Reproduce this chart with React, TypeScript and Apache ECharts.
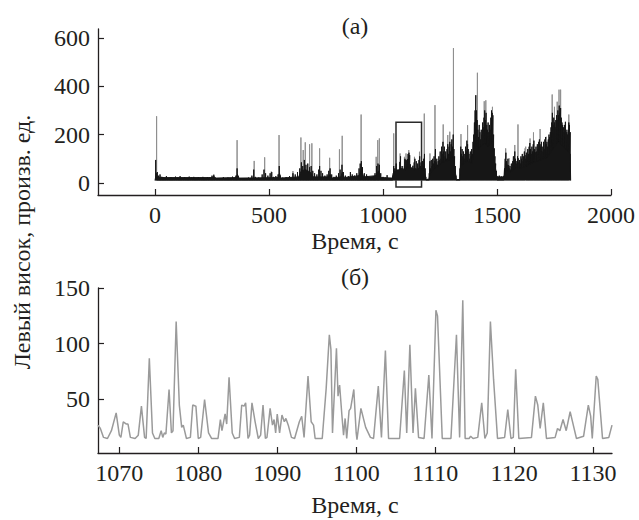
import React, { useEffect, useRef } from "react";
import * as echarts from "echarts";

// ---- tick values ----
const overviewTicksX = [0, 500, 1000, 1500, 2000];
const overviewTicksY = [0, 200, 400, 600];
const zoomTicksX = [1070, 1080, 1090, 1100, 1110, 1120, 1130];
const zoomTicksY = [50, 100, 150];

// ---- panel (a): solid black floor of the signal, [time s, value] ----
const floorLevel: [number, number][] = [
  [0, 10], [3, 25], [40, 22], [250, 22], [258, 28], [265, 20], [355, 22], [362, 35], [368, 20],
  [540, 22], [546, 40], [552, 20], [630, 25], [642, 50], [660, 55], [680, 45], [695, 25], [760, 25],
  [768, 35], [776, 20], [815, 25], [822, 45], [830, 22], [895, 30], [905, 55], [915, 25], [970, 30],
  [980, 50], [990, 22], [1043, 20], [1047, 45], [1060, 50], [1080, 60], [1100, 55], [1120, 65],
  [1140, 55], [1160, 60], [1183, 50], [1188, 15], [1202, 15], [1206, 40], [1230, 60], [1260, 85],
  [1290, 95], [1308, 105], [1318, 40], [1322, 14], [1337, 14], [1340, 70], [1370, 90], [1390, 80],
  [1405, 160], [1420, 140], [1445, 165], [1460, 150], [1480, 170], [1490, 80], [1499, 25],
  [1531, 25], [1536, 50], [1560, 45], [1580, 60], [1600, 60], [1630, 70], [1660, 85], [1690, 95],
  [1720, 105], [1745, 140], [1770, 170], [1790, 150], [1810, 130], [1821, 120], [1823, 10],
];

// ---- panel (a): dense black peaks, [time s, value] ----
const densePeaks: [number, number][] = [
  [3, 95], [6, 40], [10, 45], [15, 30], [22, 35], [30, 25], [40, 22], [50, 28], [60, 20],
  [70, 24], [80, 20], [90, 26], [100, 22], [110, 28], [120, 20], [130, 24], [140, 20], [150, 26],
  [160, 22], [170, 25], [180, 20], [190, 24], [200, 21], [210, 25], [220, 20], [230, 24], [240, 22],
  [250, 30], [258, 34], [265, 22], [280, 20], [300, 24], [320, 22], [340, 26], [355, 30], [360, 60],
  [365, 28], [380, 20], [395, 18], [410, 22], [425, 30], [433, 55], [440, 25], [455, 22], [470, 35],
  [478, 55], [485, 40], [495, 30], [505, 40], [512, 45], [520, 25], [530, 28], [540, 35], [545, 70],
  [550, 30], [560, 22], [575, 24], [590, 28], [605, 40], [615, 35], [625, 45], [635, 60], [642, 85],
  [648, 70], [655, 95], [662, 75], [670, 80], [678, 65], [685, 70], [692, 50], [700, 40], [710, 35],
  [718, 55], [722, 70], [728, 50], [735, 40], [745, 30], [755, 35], [762, 50], [768, 60], [775, 35],
  [785, 25], [795, 30], [805, 40], [812, 55], [820, 75], [826, 45], [835, 30], [848, 28], [857, 45],
  [865, 35], [875, 30], [885, 40], [895, 60], [900, 80], [905, 90], [910, 65], [918, 40], [928, 35],
  [940, 25], [955, 25], [965, 40], [972, 70], [978, 80], [984, 75], [990, 40], [1000, 25], [1010, 22],
  [1018, 32], [1025, 20], [1035, 20], [1043, 30],
  [1045, 40], [1047, 70], [1050, 45], [1052, 60], [1055, 35], [1058, 80], [1061, 40], [1063, 55],
  [1066, 30], [1069, 45], [1072, 44], [1074, 87], [1076, 59], [1077, 110], [1080, 50], [1082, 30],
  [1084, 70], [1086, 47], [1088, 45], [1091, 37], [1094, 71], [1096, 100], [1098, 96], [1100, 59],
  [1102, 42], [1104, 94], [1106, 76], [1107, 99], [1109, 72], [1110, 120], [1112, 108], [1114, 125],
  [1116, 47], [1117, 115], [1119, 41], [1120, 77], [1123, 53], [1125, 32], [1127, 39], [1129, 45],
  [1131, 71], [1134, 50], [1137, 85], [1140, 100], [1143, 60], [1146, 90], [1149, 55], [1152, 80],
  [1155, 60], [1158, 95], [1161, 110], [1164, 70], [1167, 85], [1170, 60], [1173, 90], [1176, 70],
  [1179, 100], [1182, 120], [1185, 60], [1188, 25],
  [1203, 40], [1206, 90], [1209, 60], [1212, 95], [1215, 70], [1218, 100], [1221, 80], [1224, 110],
  [1227, 90], [1230, 140], [1233, 85], [1236, 100], [1239, 75], [1242, 90], [1245, 110], [1248, 95],
  [1251, 130], [1254, 100], [1257, 150], [1260, 120], [1263, 170], [1266, 130], [1269, 150],
  [1272, 110], [1275, 130], [1278, 100], [1281, 140], [1284, 160], [1287, 120], [1290, 150],
  [1293, 170], [1296, 130], [1299, 160], [1302, 180], [1305, 150], [1308, 200], [1311, 140],
  [1314, 110], [1317, 70], [1320, 30],
  [1338, 60], [1341, 150], [1344, 120], [1347, 140], [1350, 110], [1353, 130], [1356, 100],
  [1359, 120], [1362, 150], [1365, 130], [1368, 175], [1371, 160], [1374, 140], [1377, 120],
  [1380, 100], [1383, 130], [1386, 110], [1389, 140], [1392, 120], [1395, 170], [1398, 200],
  [1401, 250], [1404, 300], [1407, 363], [1410, 300], [1413, 260], [1416, 220], [1419, 190],
  [1422, 240], [1425, 210], [1428, 180], [1431, 220], [1434, 200], [1437, 250], [1440, 230],
  [1443, 270], [1446, 300], [1449, 260], [1452, 290], [1455, 240], [1458, 220], [1461, 250],
  [1464, 210], [1467, 240], [1470, 220], [1473, 270], [1476, 300], [1479, 290], [1482, 280],
  [1485, 200], [1488, 143], [1491, 110], [1494, 80], [1497, 50],
  [1500, 28], [1505, 24], [1510, 30], [1515, 22], [1520, 26], [1525, 24], [1530, 28],
  [1533, 60], [1536, 100], [1539, 125], [1542, 90], [1545, 75], [1548, 100], [1551, 74], [1554, 60],
  [1557, 70], [1560, 55], [1563, 80], [1566, 65], [1569, 90], [1572, 110], [1575, 95], [1578, 130],
  [1581, 100], [1584, 90], [1587, 80], [1590, 110], [1593, 102], [1596, 85], [1599, 95], [1602, 80],
  [1605, 110], [1608, 100], [1611, 120], [1614, 90], [1617, 110], [1620, 130], [1623, 115],
  [1626, 100], [1629, 125], [1632, 110], [1635, 140], [1638, 120], [1641, 150], [1644, 165],
  [1647, 140], [1650, 120], [1653, 150], [1656, 130], [1659, 160], [1662, 175], [1665, 140],
  [1668, 127], [1671, 150], [1674, 130], [1677, 160], [1680, 140], [1683, 170], [1686, 180],
  [1689, 160], [1692, 150], [1695, 170], [1698, 130], [1701, 150], [1704, 170], [1707, 140],
  [1710, 180], [1713, 190], [1716, 160], [1719, 170], [1722, 150], [1725, 180], [1728, 200],
  [1731, 190], [1734, 210], [1737, 230], [1740, 250], [1743, 290], [1746, 240], [1749, 270],
  [1752, 250], [1755, 230], [1758, 260], [1761, 280], [1764, 260], [1767, 300], [1770, 280],
  [1773, 320], [1776, 290], [1779, 310], [1782, 270], [1785, 250], [1788, 240], [1791, 230],
  [1794, 210], [1797, 240], [1800, 253], [1803, 220], [1806, 210], [1809, 200], [1812, 220],
  [1815, 250], [1818, 240], [1821, 210],
];

// ---- panel (a): isolated gray spikes, [time s, peak value] ----
const spikePeaks: [number, number][] = [
  [7, 276], [360, 177], [435, 91], [481, 106], [510, 47], [544, 198], [605, 49], [640, 188],
  [650, 136], [659, 168], [678, 160], [688, 164], [722, 143], [766, 104], [809, 139], [821, 195],
  [904, 283], [970, 108], [977, 177], [984, 184], [1047, 205], [1075, 122], [1094, 108], [1101, 122],
  [1113, 136], [1138, 108], [1160, 129], [1181, 287], [1206, 122], [1228, 322], [1264, 242],
  [1284, 198], [1293, 212], [1309, 558], [1342, 202], [1371, 239], [1414, 456], [1444, 338],
  [1451, 342], [1480, 315], [1538, 143], [1553, 102], [1578, 157], [1592, 242], [1623, 143],
  [1626, 150], [1645, 184], [1660, 209], [1689, 223], [1716, 191], [1742, 366], [1752, 315],
  [1764, 336], [1772, 386], [1779, 386], [1815, 283],
];

// ---- zoom window marked in panel (a) ----
const windowTimes = [1057, 1169];
const windowValues = [-17, 251];

// ---- panel (б): detailed signal, [time s, value] ----
const zoomSignal: [number, number][] = [
  [1067.3, 27], [1067.6, 24], [1068.0, 16], [1068.5, 15], [1069.0, 22], [1069.6, 38], [1070.0, 18],
  [1070.2, 16], [1070.5, 30], [1070.9, 28], [1071.1, 28], [1071.4, 16], [1072.0, 15], [1072.4, 18],
  [1072.8, 44], [1073.2, 16], [1073.4, 15], [1073.8, 87], [1074.2, 20], [1074.5, 15], [1075.0, 15],
  [1075.3, 22], [1075.5, 16], [1075.7, 20], [1075.9, 19], [1076.3, 59], [1076.6, 20], [1076.8, 22],
  [1077.2, 120], [1077.6, 45], [1077.9, 25], [1078.1, 27], [1078.5, 15], [1079.0, 16], [1079.3, 45],
  [1079.7, 44], [1080.0, 15], [1080.3, 16], [1080.8, 50], [1081.3, 20], [1081.7, 15], [1082.5, 15],
  [1082.8, 32], [1083.0, 22], [1083.4, 37], [1083.6, 28], [1083.9, 70], [1084.3, 20], [1084.6, 15],
  [1085.2, 16], [1085.5, 45], [1085.8, 44], [1086.0, 47], [1086.3, 15], [1086.5, 18], [1086.8, 47],
  [1087.2, 30], [1087.6, 15], [1087.9, 18], [1088.2, 45], [1088.5, 15], [1088.7, 16], [1089.1, 42],
  [1089.4, 27], [1089.6, 32], [1089.8, 20], [1090.0, 37], [1090.3, 20], [1090.6, 36], [1090.9, 30],
  [1091.1, 33], [1091.4, 27], [1091.8, 16], [1092.2, 15], [1092.8, 30], [1093.1, 35], [1093.4, 16],
  [1093.9, 71], [1094.3, 30], [1094.6, 27], [1094.8, 15], [1095.7, 15], [1096.2, 60], [1096.6, 108],
  [1096.8, 95], [1097.0, 20], [1097.5, 96], [1097.7, 53], [1097.9, 63], [1098.2, 35], [1098.4, 18],
  [1098.6, 33], [1098.8, 15], [1099.1, 40], [1099.3, 42], [1099.7, 59], [1100.0, 20], [1100.1, 14],
  [1100.6, 42], [1101.2, 25], [1101.8, 16], [1102.2, 15], [1102.8, 62], [1103.2, 16], [1103.7, 94],
  [1104.1, 15], [1105.5, 15], [1106.1, 76], [1106.4, 20], [1106.8, 99], [1107.2, 20], [1107.5, 60],
  [1107.9, 16], [1108.6, 15], [1109.2, 72], [1109.6, 15], [1110.1, 130], [1110.3, 125], [1110.9, 15],
  [1112.0, 15], [1112.7, 108], [1113.1, 16], [1113.5, 139], [1113.8, 15], [1114.3, 15], [1114.5, 17],
  [1114.8, 15], [1115.4, 16], [1115.9, 47], [1116.3, 15], [1116.6, 20], [1117.0, 120], [1117.4, 68],
  [1117.9, 15], [1118.8, 16], [1119.2, 41], [1119.6, 15], [1119.9, 16], [1120.2, 77], [1120.6, 15],
  [1122.2, 16], [1122.7, 53], [1123.0, 45], [1123.3, 24], [1123.7, 47], [1124.1, 15], [1125.2, 16],
  [1125.5, 24], [1125.8, 22], [1126.2, 32], [1126.6, 22], [1127.1, 39], [1127.5, 27], [1127.9, 15],
  [1128.8, 17], [1129.4, 45], [1129.7, 35], [1129.9, 15], [1130.4, 71], [1130.6, 68], [1131.2, 15],
  [1132.0, 16], [1132.4, 27],
];

const FONT = "Liberation Serif";
const INK = "#231f20";
const FS = 24;

export default function App() {
  const ref = useRef<HTMLDivElement>(null);

  useEffect(() => {
    if (!ref.current) return;
    const chart = echarts.init(ref.current, null, { renderer: "svg" });

    const base = 12;
    const impulses = (pts: [number, number][]) => {
      const out: [number, number][] = [];
      pts.forEach(([t, v]) => out.push([t, base], [t, v], [t, base]));
      return out;
    };

    const axisLine = { show: true, onZero: false, lineStyle: { color: INK, width: 1.3 } };
    const tick = (vals: number[]) => ({
      show: true, inside: true, length: 6, customValues: vals, lineStyle: { color: INK, width: 1.2 },
    });
    const label = (vals: number[]) => ({
      show: true, customValues: vals, margin: 8,
      fontFamily: FONT, fontSize: FS, color: INK,
      formatter: (v: number) => String(v),
    });

    chart.setOption({
      animation: false,
      backgroundColor: "#ffffff",
      textStyle: { fontFamily: FONT, fontSize: FS, color: INK },
      grid: [
        { left: 98, top: 29, width: 513, height: 166 },
        { left: 98, top: 288, width: 514, height: 165 },
      ],
      xAxis: [
        { type: "value", gridIndex: 0, min: -250, max: 2000, axisLine, splitLine: { show: false },
          axisTick: tick(overviewTicksX), axisLabel: label(overviewTicksX) },
        { type: "value", gridIndex: 1, min: 1067.3, max: 1132.4, axisLine, splitLine: { show: false },
          axisTick: tick(zoomTicksX), axisLabel: label(zoomTicksX) },
      ],
      yAxis: [
        { type: "value", gridIndex: 0, min: -50, max: 637, axisLine, splitLine: { show: false },
          axisTick: tick(overviewTicksY), axisLabel: label(overviewTicksY) },
        { type: "value", gridIndex: 1, min: 2, max: 150, axisLine, splitLine: { show: false },
          axisTick: tick(zoomTicksY), axisLabel: label(zoomTicksY) },
      ],
      series: [
        {
          type: "line", xAxisIndex: 0, yAxisIndex: 0, data: impulses(spikePeaks), showSymbol: false,
          lineStyle: { color: "#8f8f8f", width: 1 }, silent: true, z: 2,
        },
        {
          type: "line", xAxisIndex: 0, yAxisIndex: 0, data: impulses(densePeaks), showSymbol: false,
          lineStyle: { color: "#161616", width: 1 }, silent: true, z: 3,
        },
        {
          type: "line", xAxisIndex: 0, yAxisIndex: 0, data: floorLevel, showSymbol: false,
          lineStyle: { color: "#161616", width: 1 },
          areaStyle: { color: "#161616", opacity: 1, origin: 10 },
          silent: true, z: 4,
          markArea: {
            silent: true,
            itemStyle: { color: "rgba(0,0,0,0)", borderColor: "#2a2a2a", borderWidth: 1.5 },
            data: [[
              { coord: [windowTimes[0], windowValues[1]] },
              { coord: [windowTimes[1], windowValues[0]] },
            ]],
          },
        },
        {
          type: "line", xAxisIndex: 1, yAxisIndex: 1, data: zoomSignal, showSymbol: false,
          lineStyle: { color: "#9a9a9a", width: 1.5 }, silent: true,
        },
      ],
      graphic: [
        { type: "text", x: 355, y: 26, style: { text: "(a)", fontFamily: FONT, fontSize: FS, fill: INK, align: "center", verticalAlign: "middle" } },
        { type: "text", x: 355, y: 241, style: { text: "Время, с", fontFamily: FONT, fontSize: FS, fill: INK, align: "center", verticalAlign: "middle" } },
        { type: "text", x: 355, y: 277, style: { text: "(б)", fontFamily: FONT, fontSize: FS, fill: INK, align: "center", verticalAlign: "middle" } },
        { type: "text", x: 355, y: 505, style: { text: "Время, с", fontFamily: FONT, fontSize: FS, fill: INK, align: "center", verticalAlign: "middle" } },
        { type: "text", x: 22, y: 242, rotation: Math.PI / 2, style: { text: "Левый висок, произв. ед.", fontFamily: FONT, fontSize: FS, fill: INK, align: "center", verticalAlign: "middle" } },
      ],
    });

    return () => chart.dispose();
  }, []);

  return <div ref={ref} style={{ position: "fixed", left: 0, top: 0, width: 639, height: 520 }} />;
}
